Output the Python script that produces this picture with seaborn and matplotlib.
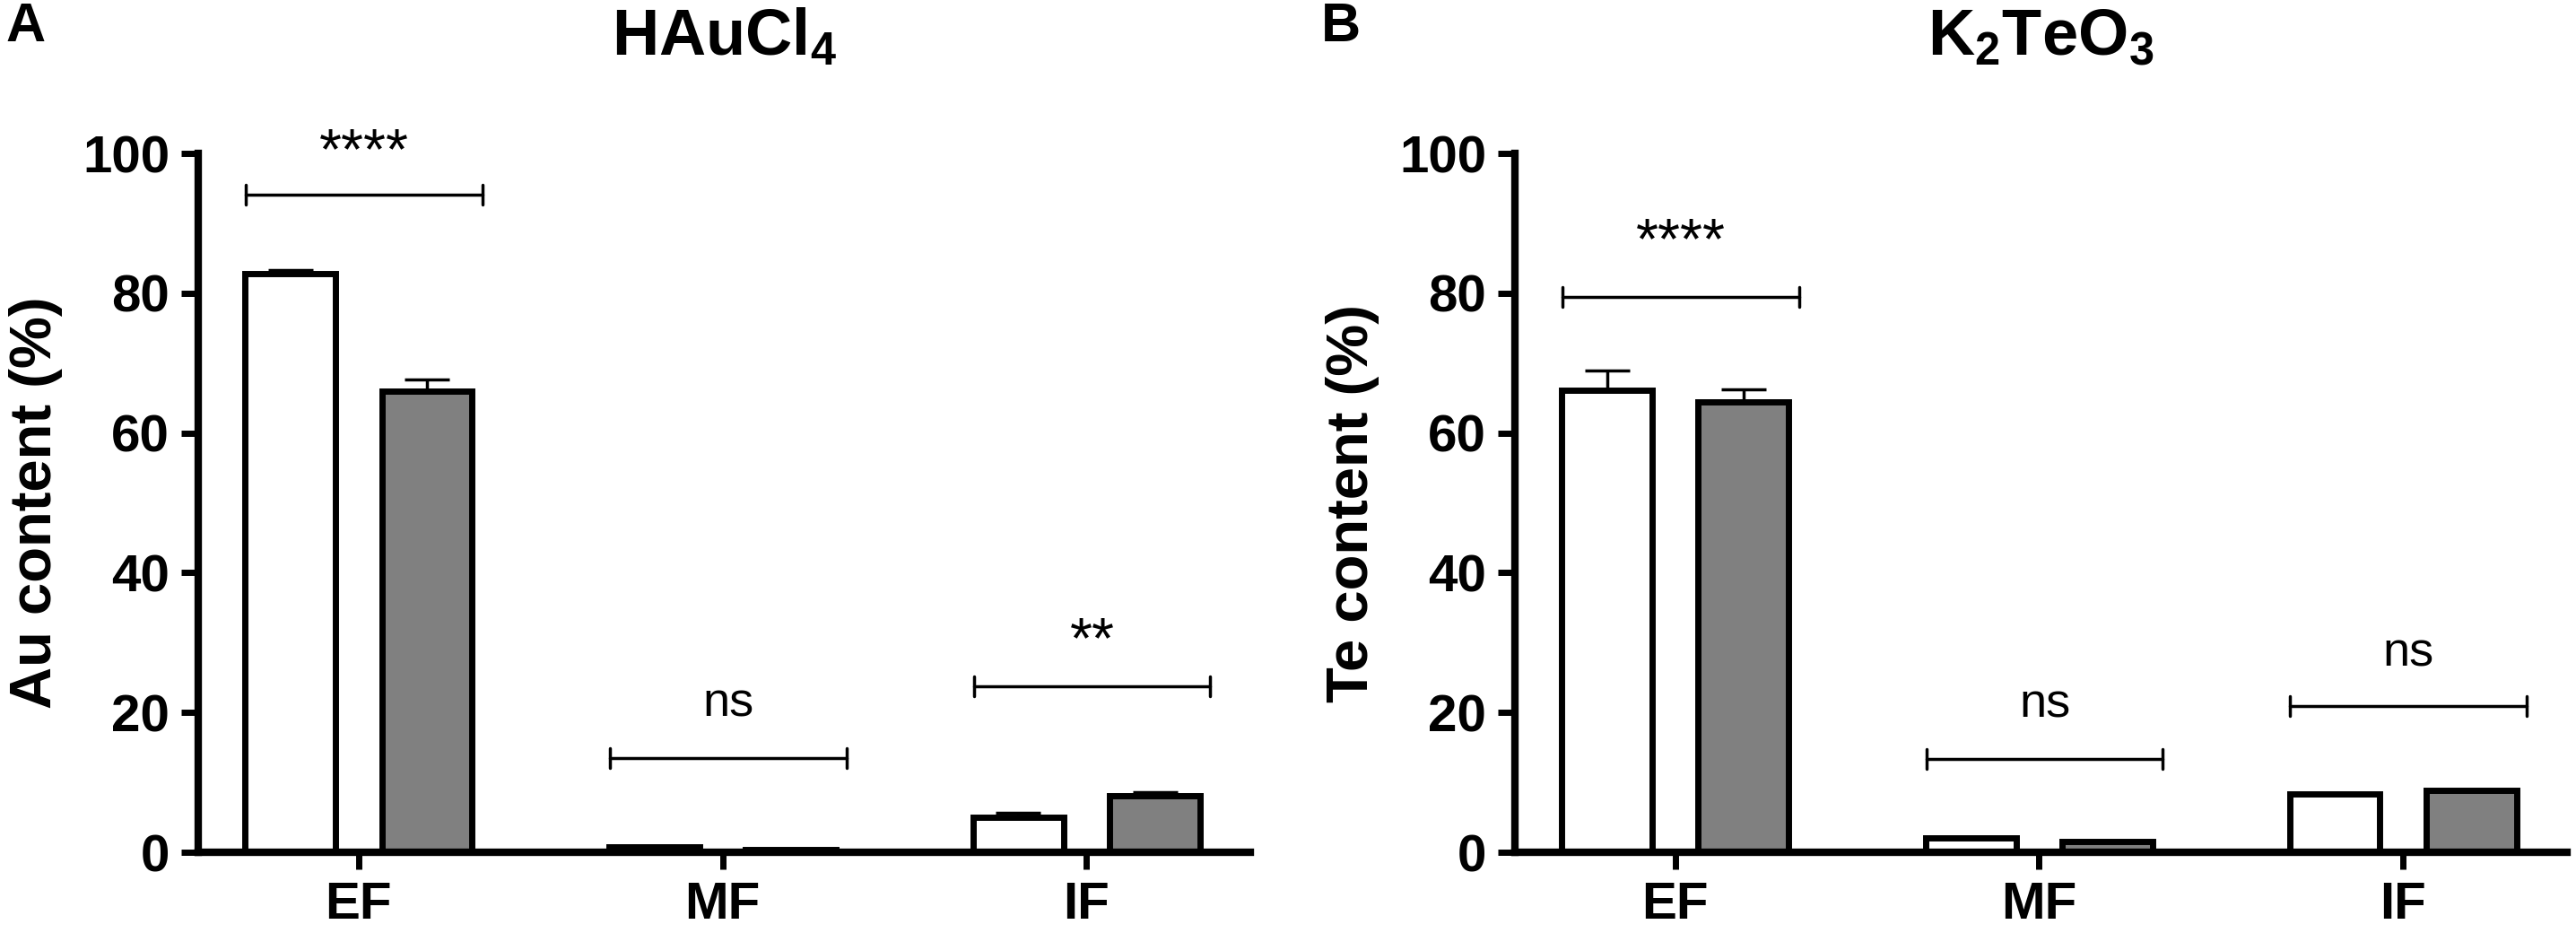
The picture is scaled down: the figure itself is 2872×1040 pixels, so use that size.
import pandas as pd
import numpy as np
import seaborn as sns
import matplotlib.pyplot as plt

sns.set_style("ticks")
plt.rcParams["font.family"] = ["Liberation Sans", "DejaVu Sans"]
plt.rcParams["mathtext.fontset"] = "custom"
plt.rcParams["mathtext.rm"] = "Liberation Sans:bold"
plt.rcParams["mathtext.it"] = "Liberation Sans:bold"
plt.rcParams["mathtext.bf"] = "Liberation Sans:bold"
for k in ["text.color", "axes.labelcolor", "xtick.color", "ytick.color", "axes.edgecolor"]:
    plt.rcParams[k] = "black"

# DATA
fractions = ["EF", "MF", "IF"]
groups = ["white", "grey"]

au_white = [82.8, 0.8, 5.0]
au_white_err = [0.5, 0.1, 0.7]
au_grey = [66.0, 0.4, 8.1]
au_grey_err = [1.6, 0.05, 0.5]
au_stars = ["****", "ns", "**"]
au_bracket_y = [94.1, 13.5, 23.8]
au_text_y = [97.8, 19.5, 27.9]

te_white = [66.1, 2.0, 8.3]
te_white_err = [2.8, 0.0, 0.0]
te_grey = [64.4, 1.5, 8.9]
te_grey_err = [1.8, 0.0, 0.0]
te_stars = ["****", "ns", "ns"]
te_bracket_y = [79.5, 13.4, 20.9]
te_text_y = [85.0, 19.3, 26.7]

yticks = [0, 20, 40, 60, 80, 100]


def make_df(white, grey):
    return pd.DataFrame({
        "fraction": fractions * 2,
        "group": [groups[0]] * 3 + [groups[1]] * 3,
        "content": white + grey,
    })


def panel(ax, white, white_err, grey, grey_err, stars, br_y, txt_y, ylabel, title):
    df = make_df(white, grey)
    sns.barplot(data=df, x="fraction", y="content", hue="group",
                palette=["white", "#808080"], edgecolor="black", linewidth=5,
                width=0.75, gap=0.34, errorbar=None, legend=False, ax=ax)
    # upper error bars only
    for cont, errs in zip(ax.containers, [white_err, grey_err]):
        for bar, e in zip(cont, errs):
            if e <= 0:
                continue
            xc = bar.get_x() + bar.get_width() / 2
            ax.errorbar(xc, bar.get_height(), yerr=[[0], [e]], fmt="none",
                        ecolor="black", elinewidth=2.5, capsize=18, capthick=2.5, zorder=0)
    # significance brackets
    for i, (s, by, ty) in enumerate(zip(stars, br_y, txt_y)):
        x0, x1 = i - 0.31, i + 0.34
        ax.plot([x0, x1], [by, by], color="black", lw=2.5, clip_on=False)
        ax.plot([x0, x0], [by - 1.4, by + 1.4], color="black", lw=2.5, clip_on=False)
        ax.plot([x1, x1], [by - 1.4, by + 1.4], color="black", lw=2.5, clip_on=False)
        fs = 39 if s == "ns" else 46
        ax.text((x0 + x1) / 2, ty, s, ha="center", va="baseline", fontsize=fs)

    ax.set_xlim(-0.44, 2.45)
    ax.set_ylim(0, 100)
    ax.set_yticks(yticks)
    ax.set_xlabel("")
    ax.set_ylabel(ylabel, fontsize=47, fontweight="bold")
    ax.yaxis.set_label_coords(-0.129, 0.5)
    ax.set_title(title, fontsize=52, fontweight="bold", pad=79)
    sns.despine(ax=ax)
    for sp in ["left", "bottom"]:
        ax.spines[sp].set_linewidth(6)
    ax.tick_params(width=5, length=14, pad=9, labelsize=42, color="black")
    for lab in ax.get_xticklabels() + ax.get_yticklabels():
        lab.set_fontweight("bold")


fig = plt.figure(figsize=(28.72, 10.4), dpi=100)
ax1 = fig.add_axes([0.077, 0.0865, 0.4084, 0.749])
ax2 = fig.add_axes([0.5881, 0.0865, 0.4084, 0.749])

panel(ax1, au_white, au_white_err, au_grey, au_grey_err, au_stars,
      au_bracket_y, au_text_y, "Au content (%)", "HAuCl$_4$")
panel(ax2, te_white, te_white_err, te_grey, te_grey_err, te_stars,
      te_bracket_y, te_text_y, "Te content (%)", "K$_2$TeO$_3$")

fig.text(6 / 2872, 1 - 2 / 1040, "A", fontsize=44, fontweight="bold", va="top", ha="left")
fig.text(1473 / 2872, 1 - 2 / 1040, "B", fontsize=44, fontweight="bold", va="top", ha="left")

fig.savefig("out.png", dpi=100)
